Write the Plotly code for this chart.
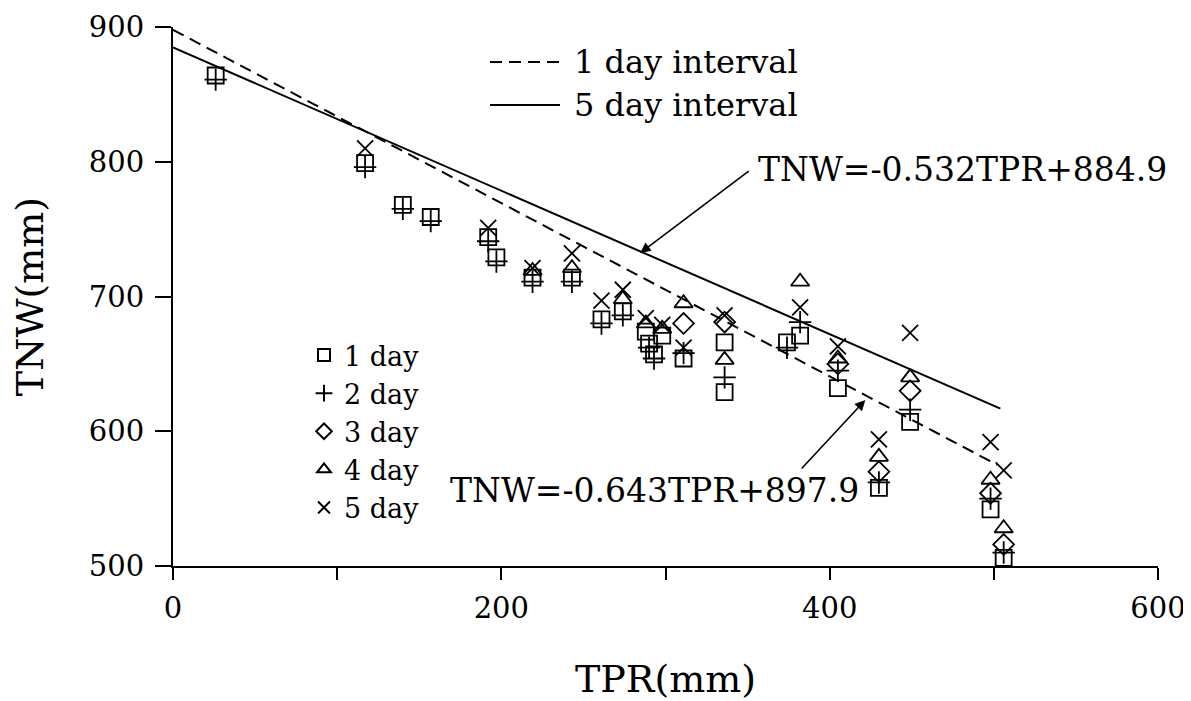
import plotly.graph_objects as go

# ---------------- data ----------------
d1_tpr = [26, 117, 140, 157, 192, 197, 219, 243, 261, 274, 288, 290, 293, 298, 311, 336, 336, 374, 382, 405, 430, 449, 498, 506]
d1_tnw = [864, 799, 768, 759, 744, 729, 714, 714, 683, 689, 674, 665, 657, 671, 654, 629, 666, 666, 671, 632, 558, 607, 542, 506]

d2_tpr = [26, 117, 140, 157, 192, 197, 219, 243, 261, 274, 290, 293, 311, 336, 374, 382, 405, 430, 449, 498, 506]
d2_tnw = [861, 796, 765, 756, 741, 726, 711, 711, 680, 686, 662, 654, 658, 640, 662, 681, 645, 562, 616, 550, 510]

d3_tpr = [311, 336, 405, 430, 449, 498, 506]
d3_tnw = [680, 681, 650, 570, 630, 554, 516]

d4_tpr = [219, 243, 274, 288, 298, 311, 336, 382, 405, 430, 449, 498, 506]
d4_tnw = [719, 721, 698, 680, 676, 695, 653, 711, 654, 581, 640, 564, 528]

d5_tpr = [117, 192, 219, 243, 261, 274, 288, 298, 311, 336, 382, 405, 430, 449, 498, 506]
d5_tnw = [810, 751, 721, 732, 697, 705, 684, 679, 662, 686, 692, 663, 594, 673, 592, 571]

series_names = ["1 day", "2 day", "3 day", "4 day", "5 day"]
series_symbols = ["square-open", "cross-thin-open", "diamond-open", "triangle-up-open", "x-thin-open"]

# regression lines: TNW = slope * TPR + intercept
line_names = ["1 day interval", "5 day interval"]
line_slopes = [-0.643, -0.532]
line_intercepts = [897.9, 884.9]
line_xmax = [502, 504]
line_eq_text = ["TNW=-0.643TPR+897.9", "TNW=-0.532TPR+884.9"]

x_ticks = [0, 100, 200, 300, 400, 500, 600]
x_ticktext = ["0", "", "200", "", "400", "", "600"]
y_ticks = [500, 600, 700, 800, 900]

FONT = "DejaVu Serif"

# page body has an 8px default margin: size the figure to fit the window
OFF = 8
FIG_W, FIG_H = 1191 - OFF, 701 - OFF
L, T = 173 - OFF, 27 - OFF
R = FIG_W - (1158 - OFF)
B = FIG_H - (566 - OFF)
W = FIG_W - L - R
H = FIG_H - T - B

def px(xp):  # screenshot pixel x -> paper
    return (xp - OFF - L) / W

def py(yp):  # screenshot pixel y -> paper
    return 1 - (yp - OFF - T) / H

fig = go.Figure()

# regression lines
dashes = ["12px,7px", "solid"]
for name, s, b, xm, dsh in zip(line_names, line_slopes, line_intercepts, line_xmax, dashes):
    xs = [0, xm]
    ys = [s * v + b for v in xs]
    fig.add_trace(go.Scatter(x=xs, y=ys, mode="lines", name=name, showlegend=False,
                             line=dict(color="black", width=2, dash=dsh)))

# scatter series
all_data = [(d1_tpr, d1_tnw), (d2_tpr, d2_tnw), (d3_tpr, d3_tnw), (d4_tpr, d4_tnw), (d5_tpr, d5_tnw)]
for (xs, ys), nm, sym in zip(all_data, series_names, series_symbols):
    fig.add_trace(go.Scatter(x=xs, y=ys, mode="markers", name=nm,
                             marker=dict(symbol=sym, size=16, color="black",
                                         line=dict(color="black", width=1.8))))

# equation labels with arrows
fig.add_annotation(x=293.5, y=556.4, text=line_eq_text[0], showarrow=False,
                   font=dict(family=FONT, size=33, color="black"), xanchor="center", yanchor="middle")
fig.add_annotation(x=480.8, y=793.9, text=line_eq_text[1], showarrow=False,
                   font=dict(family=FONT, size=33, color="black"), xanchor="center", yanchor="middle")
fig.add_annotation(x=421.7, y=623.2, ax=382.1, ay=571.2, axref="x", ayref="y", text="",
                   showarrow=True, arrowhead=2, arrowsize=1.3, arrowwidth=1.6, arrowcolor="black")
fig.add_annotation(x=284.6, y=732.3, ax=351.6, ay=793.9, axref="x", ayref="y", text="",
                   showarrow=True, arrowhead=2, arrowsize=1.3, arrowwidth=1.6, arrowcolor="black")

# line legend (manual, top)
leg_rows = [(62, dashes[0], line_names[0]), (105, dashes[1], line_names[1])]
for yp, dsh, txt in leg_rows:
    fig.add_shape(type="line", xref="paper", yref="paper", x0=px(490), x1=px(560), y0=py(yp), y1=py(yp),
                  line=dict(color="black", width=2, dash=dsh))
    fig.add_annotation(xref="paper", yref="paper", x=px(572), y=py(yp), text=txt, showarrow=False,
                       xanchor="left", yanchor="middle", font=dict(family=FONT, size=32, color="black"))

fig.update_layout(
    width=FIG_W, height=FIG_H,
    margin=dict(l=L, r=R, t=T, b=B, autoexpand=False),
    paper_bgcolor="white", plot_bgcolor="white",
    font=dict(family=FONT, size=29, color="black"),
    showlegend=True,
    legend=dict(x=px(304), y=py(331), xanchor="left", yanchor="top",
                bgcolor="rgba(0,0,0,0)", borderwidth=0,
                font=dict(family=FONT, size=27, color="black"),
                itemsizing="constant", tracegroupgap=0),
    xaxis=dict(range=[0, 600], tickvals=x_ticks, ticktext=x_ticktext, showgrid=False, zeroline=False,
               automargin=False,
               showline=True, linecolor="black", linewidth=2, ticks="outside", ticklen=12, tickwidth=2,
               tickcolor="black", tickfont=dict(family=FONT, size=29), ticklabelstandoff=3,
               title=dict(text="TPR(mm)", font=dict(family=FONT, size=38), standoff=45)),
    yaxis=dict(range=[500, 900], tickvals=y_ticks, showgrid=False, zeroline=False,
               automargin=False,
               showline=True, linecolor="black", linewidth=2, ticks="outside", ticklen=16, tickwidth=2,
               tickcolor="black", tickfont=dict(family=FONT, size=29), ticklabelstandoff=5,
               title=dict(text="TNW(mm)", font=dict(family=FONT, size=38), standoff=36)),
)

fig.write_html("out.html")
